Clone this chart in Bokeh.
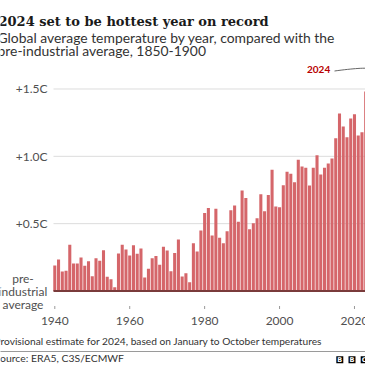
from bokeh.plotting import figure
from bokeh.models import Range1d
from bokeh.core.properties import value
from bokeh.embed import file_html
from bokeh.resources import INLINE

# ---------------- data ----------------
years = list(range(1940, 2025))
anomaly = [
    0.19, 0.234, 0.145, 0.15, 0.343, 0.204, 0.204, 0.249, 0.187, 0.221,   # 1940s
    0.11, 0.244, 0.224, 0.303, 0.105, 0.088, 0.028, 0.278, 0.343, 0.308,  # 1950s
    0.264, 0.34, 0.277, 0.315, 0.10, 0.165, 0.244, 0.259, 0.194, 0.328,  # 1960s
    0.30, 0.146, 0.282, 0.383, 0.108, 0.132, 0.065, 0.354, 0.293, 0.45,   # 1970s
    0.579, 0.616, 0.413, 0.61, 0.396, 0.355, 0.444, 0.599, 0.635, 0.515,  # 1980s
    0.746, 0.69, 0.459, 0.503, 0.54, 0.718, 0.592, 0.712, 0.90, 0.627,   # 1990s
    0.622, 0.786, 0.885, 0.87, 0.808, 0.974, 0.924, 0.915, 0.783, 0.915,  # 2000s
    1.008, 0.865, 0.915, 0.947, 0.984, 1.134, 1.318, 1.221, 1.142, 1.281,  # 2010s
    1.313, 1.154, 1.179, 1.481, 1.60,                                      # 2020s
]
y_ticks = [0.5, 1.0, 1.5]
y_tick_labels = ["+0.5C", "+1.0C", "+1.5C"]
baseline_lines = ["pre-", "industrial", "average"]
x_ticks = [1940, 1960, 1980, 2000, 2020]
x_tick_labels = ["1940", "1960", "1980", "2000", "2020"]
title_text = "2024 set to be hottest year on record"
subtitle_lines = ["Global average temperature by year, compared with the",
                  "pre-industrial average, 1850-1900"]
footnote_text = "Provisional estimate for 2024, based on January to October temperatures"
source_text = "Source: ERA5, C3S/ECMWF"
logo_letters = ["B", "B", "C"]

# ---------------- layout (pixels -> data) ----------------
W = H = 365
X0_PX, PX_YEAR = 54.3, 3.746      # pixel of first year, pixels per year
Y0_PX, PX_UNIT = 290.5, 134.67    # pixel of 0C, pixels per degree
PLOT_L = 53                        # left edge of grid / baseline
FIX = 4.5                          # baseline correction for sans texts

def xd(px):
    return years[0] + (px - X0_PX) / PX_YEAR

def yd(py):
    return (Y0_PX - py) / PX_UNIT

def ys(py):
    return yd(py - FIX)

SANS = "Lato"
SERIF = "DejaVu Serif"
BAR = "#d5666a"
GREY = "#505050"
TEXT = "#333333"

p = figure(width=W, height=H, output_backend="svg", toolbar_location=None,
           x_range=Range1d(xd(0), xd(W)), y_range=Range1d(yd(H), yd(0)),
           x_axis_location=None, y_axis_location=None,
           min_border=0, outline_line_color=None,
           background_fill_color="white", border_fill_color="white")
p.grid.visible = False

# gridlines
p.segment(x0=[xd(PLOT_L)] * len(y_ticks), x1=[xd(W + 10)] * len(y_ticks),
          y0=y_ticks, y1=y_ticks, line_color="#dcdcdc", line_width=1)

# bars
p.vbar(x=years, top=anomaly, bottom=0, width=0.82, fill_color=BAR, line_color=None)

# baseline
p.segment(x0=[xd(PLOT_L)], x1=[xd(W + 10)], y0=[0], y1=[0],
          line_color="#7a3b3b", line_width=2)

def txt(texts, xs, ys_, size, color=TEXT, font=SANS, style="normal",
        align="left", baseline="alphabetic"):
    p.text(x=xs, y=ys_, text=texts, text_font=value(font), text_font_size=size,
           text_color=color, text_font_style=style, text_align=align,
           text_baseline=baseline)

# y tick labels
txt(y_tick_labels, [xd(47)] * len(y_ticks), y_ticks, "12px", GREY,
    align="right", baseline="middle")
txt(baseline_lines, [xd(22.5)] * 3, [ys(282 + 13.3 * i) for i in range(3)],
    "12px", GREY, align="center")

# x ticks and labels
p.segment(x0=x_ticks, x1=x_ticks, y0=[yd(305.5)] * len(x_ticks),
          y1=[yd(308.5)] * len(x_ticks), line_color="#999999", line_width=1)
txt(x_tick_labels, x_ticks, [ys(325)] * len(x_ticks), "12px", GREY, align="center")

# title / subtitle
txt([title_text], [xd(-2)], [yd(20.5)], "13px", "#1a1a1a", SERIF, "bold")
txt(subtitle_lines, [xd(-3)] * 2, [ys(41.7), ys(54.5)], "13.9px", TEXT)

# highlight annotation
txt([str(years[-1])], [xd(306.5)], [ys(73.3)], "10px", "#b80000", style="bold")
p.bezier(x0=xd(334), y0=yd(70.5), x1=years[-1] - 0.1, y1=anomaly[-1] + 0.05,
         cx0=xd(352), cy0=yd(68), cx1=years[-1] - 0.5, cy1=anomaly[-1] + 0.06,
         line_color="#666666", line_width=1)

# footer
txt([footnote_text], [xd(-6)], [ys(345)], "10.2px", TEXT)
p.segment(x0=[xd(-5)], x1=[xd(W + 5)], y0=[yd(351)], y1=[yd(351)],
          line_color="#9a9a9a", line_width=1)
txt([source_text], [xd(-6)], [ys(362)], "10.4px", TEXT)
logo_x = [xd(339.3 + 12.2 * i) for i in range(3)]
p.rect(x=logo_x, y=[yd(359.3)] * 3, width=7, height=7,
       width_units="screen", height_units="screen", fill_color="black", line_color=None)
txt(logo_letters, logo_x, [yd(359.6)] * 3, "6.5px", "white", "DejaVu Sans", "bold",
    align="center", baseline="middle")

open("out.html", "w").write(file_html(p, INLINE))
